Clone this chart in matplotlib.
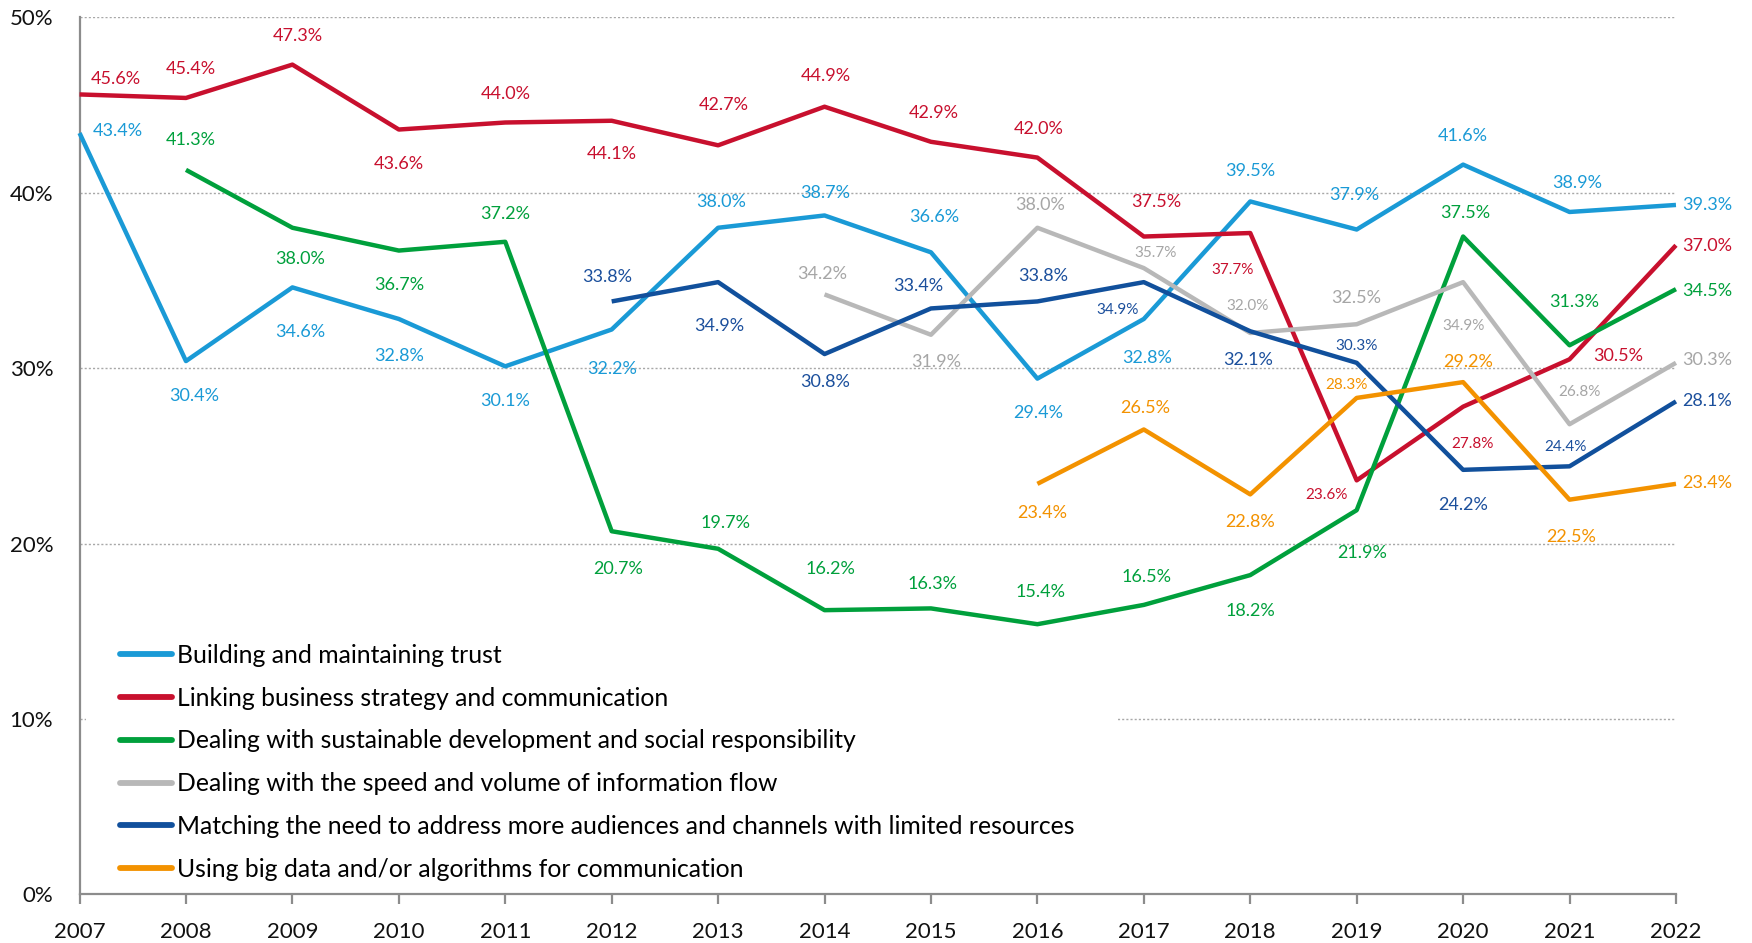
import matplotlib

matplotlib.use("Agg")

import matplotlib.pyplot as plt
from matplotlib.lines import Line2D
from matplotlib.patches import Rectangle

plt.rcParams["font.family"] = ["Lato", "DejaVu Sans"]

# ---- data -------------------------------------------------------------
series_names = [
    "Building and maintaining trust",
    "Linking business strategy and communication",
    "Dealing with sustainable development and social responsibility",
    "Dealing with the speed and volume of information flow",
    "Matching the need to address more audiences and channels with limited resources",
    "Using big data and/or algorithms for communication",
]

years_trust = list(range(2007, 2023))
trust = [43.4, 30.4, 34.6, 32.8, 30.1, 32.2, 38.0, 38.7, 36.6, 29.4, 32.8, 39.5, 37.9, 41.6, 38.9, 39.3]

years_linking = list(range(2007, 2023))
linking = [45.6, 45.4, 47.3, 43.6, 44.0, 44.1, 42.7, 44.9, 42.9, 42.0, 37.5, 37.7, 23.6, 27.8, 30.5, 37.0]

years_sustain = list(range(2008, 2023))
sustain = [41.3, 38.0, 36.7, 37.2, 20.7, 19.7, 16.2, 16.3, 15.4, 16.5, 18.2, 21.9, 37.5, 31.3, 34.5]

years_speed = list(range(2014, 2023))
speed = [34.2, 31.9, 38.0, 35.7, 32.0, 32.5, 34.9, 26.8, 30.3]

years_audience = list(range(2012, 2023))
audience = [33.8, 34.9, 30.8, 33.4, 33.8, 34.9, 32.1, 30.3, 24.2, 24.4, 28.1]

years_bigdata = list(range(2016, 2023))
bigdata = [23.4, 26.5, 22.8, 28.3, 29.2, 22.5, 23.4]

year_ticks = list(range(2007, 2023))
pct_ticks = [0, 10, 20, 30, 40, 50]

# ---- styling ----------------------------------------------------------
line_colors = ["#1a9ad6", "#c8102e", "#00a03c", "#b8b8b8", "#11509c", "#f39200"]
text_colors = ["#1a9ad6", "#c8102e", "#00a03c", "#a6a6a6", "#1b4f9c", "#f39200"]

# label offsets in pixels (dx right, dy down); "s" marks the smaller labels,
# "r" marks the end-of-line labels drawn to the right of the last point
offsets_trust = [(38, -2, ""), (8, 35, ""), (8, 45, ""), (0, 37, ""), (0, 35, ""), (0, 40, ""),
                 (3, -26, ""), (1, -22, ""), (3, -35, ""), (1, 34, ""), (3, 39, ""), (0, -30, ""),
                 (-2, -35, ""), (0, -29, ""), (8, -29, ""), (6, 0, "r")]
offsets_linking = [(36, -15, ""), (5, -29, ""), (5, -29, ""), (0, 34, ""), (0, -29, ""), (0, 33, ""),
                   (6, -40, ""), (1, -31, ""), (3, -29, ""), (1, -29, ""), (12, -35, ""), (-18, 37, "s"),
                   (-30, 15, "s"), (9, 37, "s"), (49, -3, ""), (6, 1, "r")]
offsets_sustain = [(5, -30, ""), (8, 31, ""), (0, 34, ""), (0, -28, ""), (6, 38, ""), (7, -26, ""),
                   (6, -41, ""), (2, -24, ""), (3, -32, ""), (3, -28, ""), (0, 36, ""), (5, 43, ""),
                   (2, -24, ""), (5, -43, ""), (6, 2, "r")]
offsets_speed = [(-2, -20, ""), (5, 27, ""), (3, -23, ""), (12, -15, "s"), (-3, -27, "s"),
                 (0, -26, ""), (0, 44, "s"), (10, -32, "s"), (6, -3, "r")]
offsets_audience = [(-4, -24, ""), (1, 44, ""), (1, 28, ""), (-13, -22, ""), (6, -25, ""),
                    (-26, 28, "s"), (-2, 29, ""), (0, -17, "s"), (0, 35, ""), (-4, -19, "s"), (6, 0, "r")]
offsets_bigdata = [(5, 29, ""), (1, -21, ""), (0, 28, ""), (-10, -13, "s"), (5, -20, ""),
                   (2, 37, ""), (6, -1, "r")]

all_years = [years_trust, years_linking, years_sustain, years_speed, years_audience, years_bigdata]
all_values = [trust, linking, sustain, speed, audience, bigdata]
all_offsets = [offsets_trust, offsets_linking, offsets_sustain, offsets_speed, offsets_audience, offsets_bigdata]

fig = plt.figure(figsize=(17.52, 9.43), dpi=100, facecolor="white")
ax = fig.add_axes([0.0454, 0.0516, 0.9112, 0.9301])

ax.set_xlim(2007, 2022)
ax.set_ylim(0, 50)
ax.set_xticks(year_ticks)
ax.set_yticks(pct_ticks)
ax.set_yticklabels([f"{t}%" for t in pct_ticks])

ax.set_axisbelow(True)
ax.yaxis.grid(True, linestyle=(0, (1.5, 1.5)), color="#a8a8a8", linewidth=1.0)
ax.xaxis.grid(False)

for side in ("top", "right"):
    ax.spines[side].set_visible(False)
for side in ("left", "bottom"):
    ax.spines[side].set_color("#8c8c8c")
    ax.spines[side].set_linewidth(1.6)

ax.tick_params(axis="x", length=7, width=1.6, color="#8c8c8c", labelsize=16, pad=13, labelcolor="#111111")
ax.tick_params(axis="y", length=0, labelsize=16, pad=19, labelcolor="#111111")

# white box behind the legend hides the lower grid lines
ax.add_patch(Rectangle((0.004, 0.005), 0.646, 0.29, transform=ax.transAxes,
                       facecolor="white", edgecolor="none", zorder=1))

for i in range(len(series_names)):
    xs, ys = all_years[i], all_values[i]
    ax.plot(xs, ys, color=line_colors[i], linewidth=3.2, zorder=3 + i,
            solid_capstyle="butt", clip_on=False)
    for x, y, (dx, dy, kind) in zip(xs, ys, all_offsets[i]):
        size = 11 if kind == "s" else 13
        ha = "left" if kind == "r" else "center"
        ax.annotate(f"{y:.1f}%", (x, y), xytext=(dx, -dy), textcoords="offset pixels",
                    ha=ha, va="center", fontsize=size, color=text_colors[i],
                    zorder=10, annotation_clip=False)

handles = [Line2D([], [], color=c, linewidth=4.2, solid_capstyle="round") for c in line_colors]
ax.legend(handles, series_names, loc="upper left", bbox_to_anchor=(0.0254, 0.2855),
          frameon=False, fontsize=17.8, handlelength=2.1, handletextpad=0.22,
          labelspacing=0.8, borderaxespad=0, borderpad=0)

fig.savefig("out.png", dpi=100, facecolor="white")
